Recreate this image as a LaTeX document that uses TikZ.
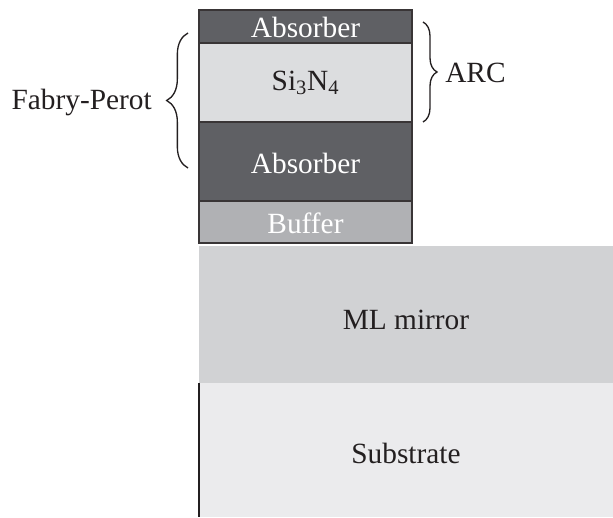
\documentclass[tikz,border=0pt]{standalone}
\usepackage{fontspec}
\setmainfont{Liberation Serif}
\usetikzlibrary{decorations.pathreplacing}
\definecolor{absorbercol}{HTML}{5F6064}
\definecolor{nitridecol}{HTML}{DCDDDF}
\definecolor{buffercol}{HTML}{B0B1B4}
\definecolor{mirrorcol}{HTML}{D1D2D4}
\definecolor{substratecol}{HTML}{EBEBED}
\definecolor{inkcol}{HTML}{231F20}
\tikzset{
  layer/.style = {draw=inkcol!90, line width=1pt},
  label/.style = {font=\fontsize{22}{26}\selectfont, text=inkcol, inner sep=0pt},
  whitelabel/.style = {label, text=white},
  curly/.style = {decorate, draw=inkcol, line width=1pt}
}
\begin{document}
\begin{tikzpicture}[x=0.75pt,y=-0.75pt]
        \useasboundingbox (0,0) rectangle (613,517);
        % substrate and mirror
        \fill[substratecol] (199,383) rectangle (613,517);
        \draw[inkcol, line width=1pt] (199,383) -- (199,517);
        \fill[mirrorcol] (199,246) rectangle (613,383);
        % layer stack
        \draw[layer, fill=absorbercol] (199,10) rectangle (412,43);
        \draw[layer, fill=nitridecol] (199,43) rectangle (412,122);
        \draw[layer, fill=absorbercol] (199,122) rectangle (412,201);
        \draw[layer, fill=buffercol] (199,201) rectangle (412,243);
        \node[whitelabel] (abstop) at (305.5,27) {Absorber};
        \node[label] (sin) at (305.5,83) {Si\textsubscript{3}N\textsubscript{4}};
        \node[whitelabel] (absbot) at (305.5,163) {Absorber};
        \node[whitelabel] (buffer) at (305.5,223) {Buffer};
        \node[label] (mirror) at (406,320) {ML mirror};
        \node[label] (substrate) at (406,453) {Substrate};
        % braces
        \coordinate (fptop) at (188,33);
        \coordinate (fpbot) at (188,168);
        \coordinate (arctop) at (423,22);
        \coordinate (arcbot) at (423,122);
        \draw[curly, decoration={brace, amplitude=16pt}] (fpbot) -- (fptop);
        \draw[curly, decoration={brace, amplitude=10.5pt}] (arctop) -- (arcbot);
        \node[label, anchor=east] (fabry) at (152,102) {Fabry-Perot};
        \node[label, anchor=west] (arc) at (445,73) {ARC};
      \end{tikzpicture}
\end{document}
